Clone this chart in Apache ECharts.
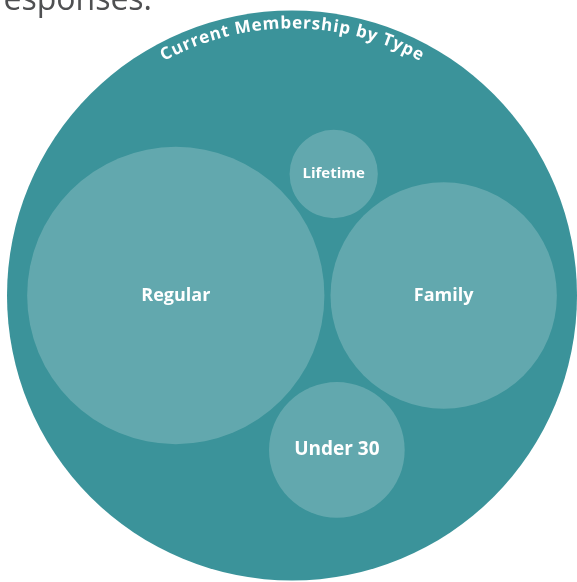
<!DOCTYPE html>
<html>
<head>
<meta charset="utf-8">
<script src="https://cdn.jsdelivr.net/npm/echarts@6/dist/echarts.min.js"></script>
<style>
  html, body { margin: 0; padding: 0; background: #fff; }
  #chart { width: 577px; height: 582px; }
</style>
</head>
<body>
<div id="chart"></div>
<script>
const title = 'Current Membership by Type'
const categories = ['Regular', 'Family', 'Under 30', 'Lifetime']
const values = [53.3, 30.9, 11.1, 4.7]

const PAD = 0.3        // gap between circles (layout units)
const OUTER_PAD = 0.84 // room between children and the parent circle
const FONT = '"Open Sans", "Noto Sans", sans-serif'

// circle packing, same placement rule as d3.packSiblings (enough for 4 circles)
function place(b, a, c) {
  const dx = b.x - a.x, dy = b.y - a.y, d2 = dx * dx + dy * dy
  let a2 = a.R + c.R, b2 = b.R + c.R, x, y
  a2 *= a2; b2 *= b2
  if (a2 > b2) {
    x = (d2 + b2 - a2) / (2 * d2)
    y = Math.sqrt(Math.max(0, b2 / d2 - x * x))
    c.x = b.x - x * dx - y * dy
    c.y = b.y - x * dy + y * dx
  } else {
    x = (d2 + a2 - b2) / (2 * d2)
    y = Math.sqrt(Math.max(0, a2 / d2 - x * x))
    c.x = a.x + x * dx - y * dy
    c.y = a.y + x * dy + y * dx
  }
}

const nodes = categories.map((name, i) => ({ name, r: Math.sqrt(values[i]), x: 0, y: 0 }))
nodes.forEach(n => { n.R = n.r + PAD / 2 })
const [n0, n1, n2, n3] = nodes
n0.x = -n1.R
n1.x = n0.R
place(n1, n0, n2)
place(n0, n1, n3)

const ex = ((n0.x - n0.R) + (n1.x + n1.R)) / 2
let enc = ((n1.x + n1.R) - (n0.x - n0.R)) / 2
nodes.forEach(n => { enc = Math.max(enc, Math.hypot(n.x - ex, n.y) + n.R) })
const outerR = enc + OUTER_PAD

// measure title chars for the curved label
const ctx = document.createElement('canvas').getContext('2d')
const titleSize = 17
const spacing = 1
ctx.font = `700 ${titleSize}px ${FONT}`
const chars = title.split('').map(ch => ({ ch, w: ctx.measureText(ch).width + spacing }))

const chart = echarts.init(document.getElementById('chart'))

chart.setOption({
  animation: false,
  graphic: [{
    type: 'text',
    x: 152,
    y: 17,
    silent: true,
    style: {
      text: 'esponses.',
      fill: '#4f5052',
      font: `400 32px ${FONT}`,
      align: 'right',
      verticalAlign: 'bottom'
    }
  }],
  grid: { left: 7, top: 9, width: 573, height: 573 },
  xAxis: { type: 'value', min: ex - outerR, max: ex + outerR, show: false },
  yAxis: { type: 'value', min: -outerR, max: outerR, inverse: true, show: false },
  series: [
    {
      type: 'custom',
      silent: true,
      data: [[ex, 0, outerR]],
      renderItem: (params, api) => {
        const c = api.coord([api.value(0), api.value(1)])
        const R = api.size([api.value(2), 0])[0]
        const rText = R - 13
        const total = chars.reduce((s, o) => s + o.w, 0) - spacing
        let s = -total / 2
        const letters = chars.map(o => {
          const mid = s + (o.w - spacing) / 2
          s += o.w
          const t = mid / rText
          return {
            type: 'text',
            x: c[0] + rText * Math.sin(t),
            y: c[1] - rText * Math.cos(t),
            rotation: -t,
            style: {
              text: o.ch,
              fill: '#fff',
              font: `700 ${titleSize}px ${FONT}`,
              align: 'center',
              verticalAlign: 'middle'
            }
          }
        })
        return {
          type: 'group',
          children: [
            { type: 'circle', shape: { cx: c[0], cy: c[1], r: R }, style: { fill: '#3b939a' } },
            ...letters
          ]
        }
      }
    },
    {
      type: 'custom',
      silent: true,
      data: nodes.map(n => [n.x, n.y, n.r]),
      renderItem: (params, api) => {
        const c = api.coord([api.value(0), api.value(1)])
        const r = api.size([api.value(2), 0])[0]
        const size = r > 100 ? 18 : r > 60 ? 19 : 15
        return {
          type: 'group',
          children: [
            { type: 'circle', shape: { cx: c[0], cy: c[1], r }, style: { fill: 'rgba(255,255,255,0.2)' } },
            {
              type: 'text',
              x: c[0],
              y: c[1],
              style: {
                text: categories[params.dataIndex],
                fill: '#fff',
                font: `700 ${size}px ${FONT}`,
                align: 'center',
                verticalAlign: 'middle'
              }
            }
          ]
        }
      }
    }
  ]
})
</script>
</body>
</html>
